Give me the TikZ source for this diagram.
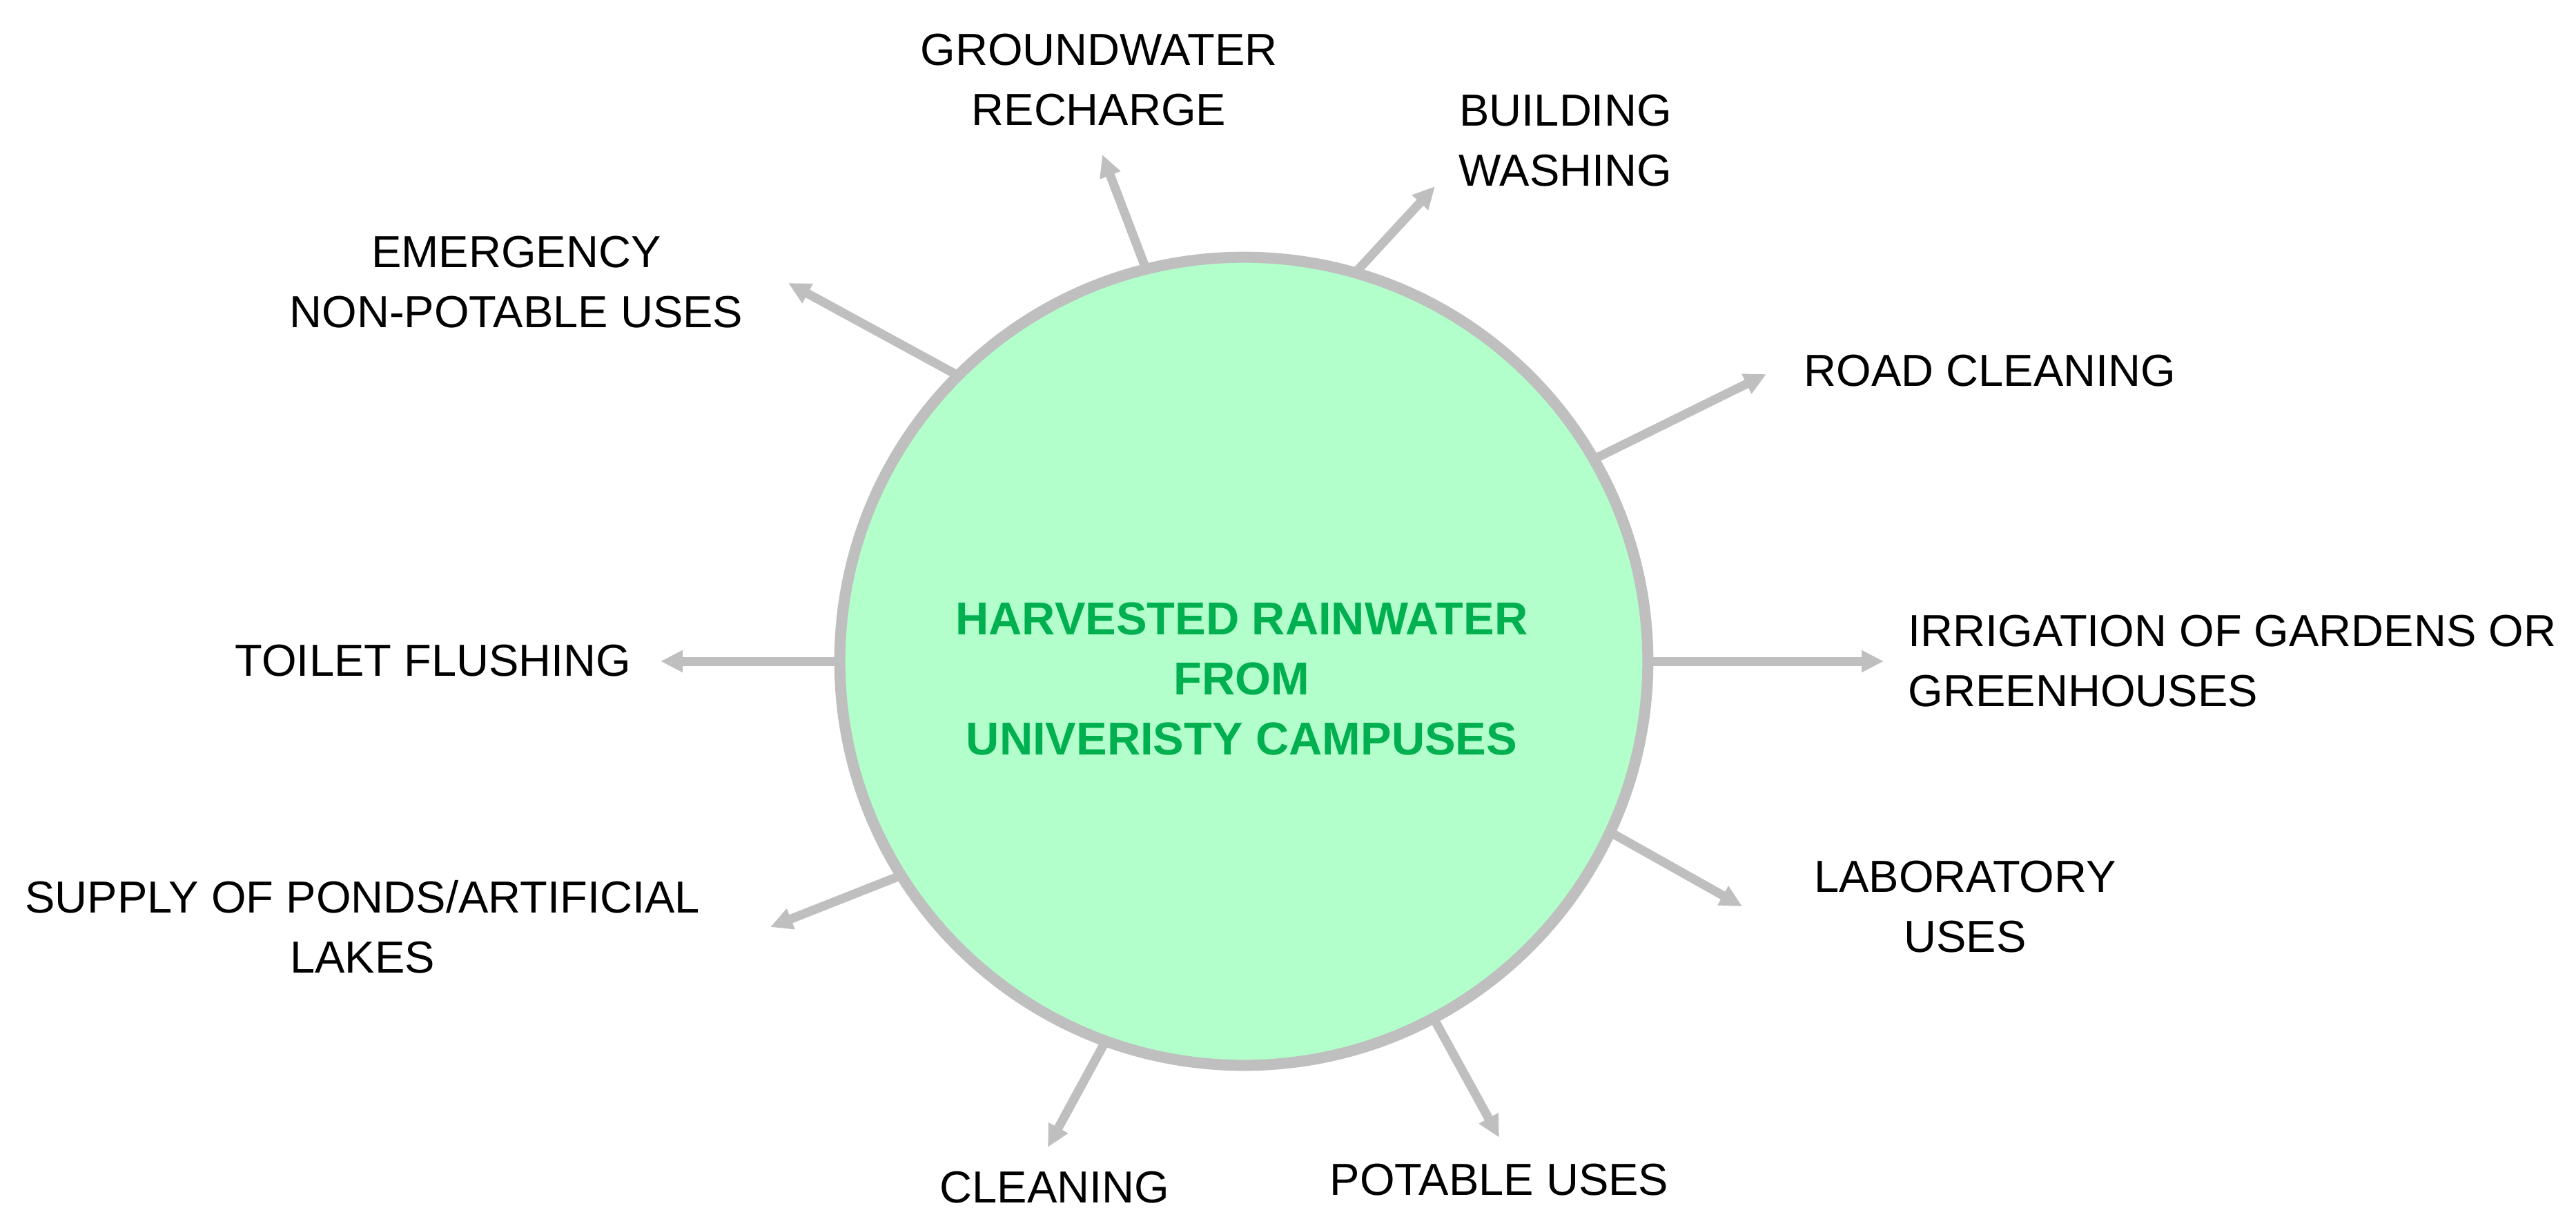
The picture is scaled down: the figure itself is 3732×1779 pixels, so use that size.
\documentclass[tikz,border=0pt]{standalone}
\usepackage{fontspec}
\setmainfont{Liberation Sans}
\usetikzlibrary{arrows.meta,positioning}
\definecolor{rimgray}{HTML}{BFBFBF}
\definecolor{poolgreen}{HTML}{B3FFCB}
\definecolor{titlegreen}{HTML}{00B050}

\begin{document}
\begin{tikzpicture}[
		x=0.01cm, y=-0.01cm,
		hub/.style={
			circle,
			draw=rimgray,
			fill=poolgreen,
			line width=0.16cm,
			minimum size=11.7cm,
			inner sep=0pt,
			outer sep=0pt
		},
		hubtext/.style={
			anchor=north,
			inner sep=0pt,
			align=center,
			text=titlegreen,
			font=\bfseries\fontsize{19}{24.75}\selectfont
		},
		usage/.style={
			anchor=north,
			inner sep=0pt,
			align=center,
			font=\fontsize{18.5}{24.75}\selectfont
		},
		flow/.style={
			draw=rimgray,
			line width=0.13cm,
			-{Triangle[length=0.32cm,width=0.30cm]}
		}
		]
		
		\fill[white] (0,0) rectangle (3732,1779);
		\useasboundingbox (0,0) rectangle (3732,1779);
		
		% centre
		\node[hub] (hub) at (1802,958) {};
		\node[hubtext] (title) at (1799,872) {HARVESTED RAINWATER\\FROM\\UNIVERISTY CAMPUSES};
		
		% uses
		\node[usage] (recharge) at (1592,48) {GROUNDWATER\\RECHARGE};
		\node[usage] (washing) at (2268,136) {BUILDING\\WASHING};
		\node[usage] (emergency) at (748,341) {EMERGENCY\\NON-POTABLE USES};
		\node[usage] (road) at (2883,513) {ROAD CLEANING};
		\node[usage,anchor=north east] (toilet) at (915,933) {TOILET FLUSHING};
		\node[usage,anchor=north west,align=left] (irrigation) at (2764,890) {IRRIGATION OF GARDENS OR\\GREENHOUSES};
		\node[usage] (ponds) at (525,1275) {SUPPLY OF PONDS/ARTIFICIAL\\LAKES};
		\node[usage] (lab) at (2847,1246) {LABORATORY\\USES};
		\node[usage] (cleaning) at (1528,1696) {CLEANING};
		\node[usage] (potable) at (2172,1685) {POTABLE USES};
		
		% arrow ends
		\coordinate (rechargetip) at (1597,224);
		\coordinate (washingtip) at (2079,270);
		\coordinate (emergencytip) at (1142,410);
		\coordinate (roadtip) at (2559,542);
		\coordinate (toilettip) at (957,958);
		\coordinate (irrigationtip) at (2729,958);
		\coordinate (pondstip) at (1116,1343);
		\coordinate (labtip) at (2524,1313);
		\coordinate (cleaningtip) at (1518,1662);
		\coordinate (potabletip) at (2172,1648);
		
		\draw[flow] (hub.104)--(rechargetip);
		\draw[flow] (hub.74)--(washingtip);
		\draw[flow] (hub.135)--(emergencytip);
		\draw[flow] (hub.30)--(roadtip);
		\draw[flow] (hub.180)--(toilettip);
		\draw[flow] (hub.0)--(irrigationtip);
		\draw[flow] (hub.212)--(pondstip);
		\draw[flow] (hub.335)--(labtip);
		\draw[flow] (hub.250)--(cleaningtip);
		\draw[flow] (hub.298)--(potabletip);
		
	\end{tikzpicture}
\end{document}
